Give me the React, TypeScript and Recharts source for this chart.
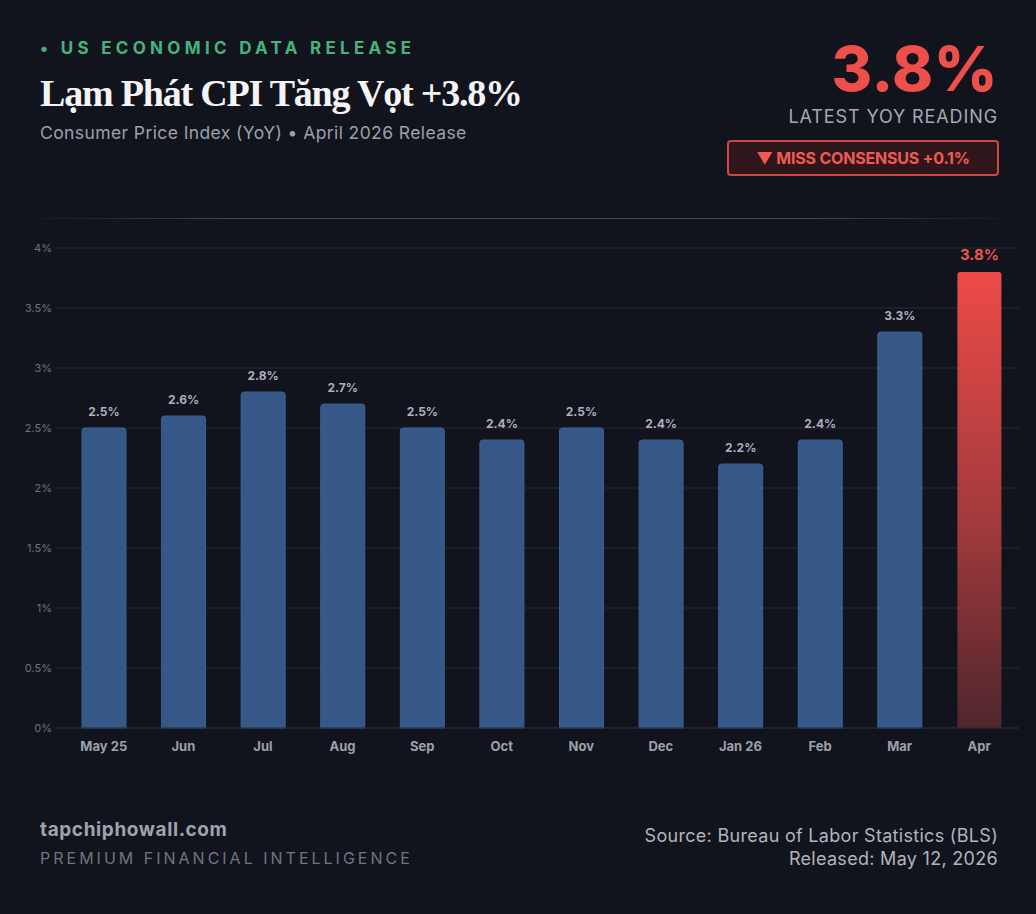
import { BarChart, Bar, XAxis, YAxis, CartesianGrid, Cell, LabelList } from 'recharts';

const months = ['May 25', 'Jun', 'Jul', 'Aug', 'Sep', 'Oct', 'Nov', 'Dec', 'Jan 26', 'Feb', 'Mar', 'Apr'];
const cpiYoY = [2.5, 2.6, 2.8, 2.7, 2.5, 2.4, 2.5, 2.4, 2.2, 2.4, 3.3, 3.8];
const yTicks = [0, 0.5, 1, 1.5, 2, 2.5, 3, 3.5, 4];

const chartData = months.map((m, i) => ({ month: m, value: cpiYoY[i] }));
const lastIndex = chartData.length - 1;

const sans = 'Inter, "Noto Sans", sans-serif';

function BarValueLabel(props: any) {
  const { x, y, width, value, index } = props;
  const isLatest = index === lastIndex;
  return (
    <text
      x={x + width / 2}
      y={y - 12}
      textAnchor="middle"
      fontFamily={sans}
      fontWeight={700}
      fontSize={isLatest ? 15 : 12}
      fill={isLatest ? '#ef534e' : '#aab1bd'}
    >
      {`${value}%`}
    </text>
  );
}

export default function App() {
  return (
    <div
      style={{
        position: 'relative',
        width: 1036,
        height: 914,
        background: '#11141c',
        fontFamily: sans,
        overflow: 'hidden',
      }}
    >
      <style>{`body{margin:0}`}</style>

      {/* header, left */}
      <div style={{ position: 'absolute', left: 40, top: 38, fontSize: 17, fontWeight: 700, letterSpacing: 4.3, color: '#43b47f' }}>
        • US ECONOMIC DATA RELEASE
      </div>
      <div
        style={{
          position: 'absolute',
          left: 40,
          top: 71,
          fontFamily: '"Liberation Serif", "DejaVu Serif", serif',
          fontSize: 38,
          fontWeight: 700,
          color: '#f4f4f6',
          letterSpacing: -1.2,
          whiteSpace: 'nowrap',
        }}
      >
        Lạm Phát CPI Tăng Vọt +3.8%
      </div>
      <div style={{ position: 'absolute', left: 40, top: 122, fontSize: 17.5, letterSpacing: 0.4, color: '#9ba1ab' }}>
        Consumer Price Index (YoY) • April 2026 Release
      </div>

      {/* header, right */}
      <div style={{ position: 'absolute', right: 38, top: 33, fontSize: 62, fontWeight: 800, color: '#ef4f4b', lineHeight: '72px', letterSpacing: 0.5 }}>
        3.8%
      </div>
      <div style={{ position: 'absolute', right: 38, top: 106, fontSize: 18, color: '#a3a9b3', letterSpacing: 0.9 }}>
        LATEST YOY READING
      </div>
      <div
        style={{
          position: 'absolute',
          left: 727,
          top: 140,
          width: 268,
          height: 32,
          border: '2px solid #cf4642',
          borderRadius: 4,
          background: '#2e161a',
          color: '#f05a52',
          fontSize: 16,
          fontWeight: 700,
          display: 'flex',
          alignItems: 'center',
          justifyContent: 'center',
          letterSpacing: -0.2,
        }}
      >
        ▼ MISS CONSENSUS +0.1%
      </div>

      {/* separator */}
      <div
        style={{
          position: 'absolute',
          left: 40,
          top: 218,
          width: 960,
          height: 1,
          background: 'linear-gradient(90deg, rgba(70,76,90,0.1), rgba(70,76,90,0.9) 20%, rgba(70,76,90,0.9) 80%, rgba(70,76,90,0.1))',
        }}
      />

      {/* chart */}
      <div style={{ position: 'absolute', left: 0, top: 231 }}>
        <BarChart
          width={1036}
          height={530}
          data={chartData}
          margin={{ top: 17, right: 17, bottom: 3, left: 0 }}
          barSize={44}
        >
          <defs>
            <linearGradient id="latestGrad" x1="0" y1="0" x2="0" y2="1">
              <stop offset="0%" stopColor="#ec4b48" />
              <stop offset="55%" stopColor="#a23a3c" />
              <stop offset="100%" stopColor="#4f262d" />
            </linearGradient>
          </defs>
          <CartesianGrid vertical={false} stroke="#262b36" />
          <XAxis
            dataKey="month"
            height={30}
            padding={{ left: 8, right: 0 }}
            tickLine={false}
            axisLine={{ stroke: '#232833' }}
            tickSize={0}
            tickMargin={14}
            interval={0}
            tick={{ fill: '#9aa1ac', fontSize: 13, fontWeight: 700, fontFamily: sans }}
          />
          <YAxis
            width={56}
            domain={[0, 4]}
            ticks={yTicks}
            tickFormatter={(v: number) => `${v}%`}
            tickLine={false}
            axisLine={false}
            tickSize={0}
            tickMargin={4}
            tick={{ fill: '#6b717c', fontSize: 11, fontFamily: sans }}
          />
          <Bar dataKey="value" radius={[3, 3, 0, 0]} isAnimationActive={false}>
            {chartData.map((d, i) => (
              <Cell
                key={d.month}
                fill={i === lastIndex ? 'url(#latestGrad)' : '#355888'}
                stroke={i === lastIndex ? 'none' : '#3b6194'}
                strokeWidth={1}
              />
            ))}
            <LabelList dataKey="value" content={BarValueLabel} />
          </Bar>
        </BarChart>
      </div>

      {/* footer */}
      <div style={{ position: 'absolute', left: 40, top: 818, fontSize: 19, fontWeight: 700, letterSpacing: 0.6, color: '#9ea4ae' }}>
        tapchiphowall.com
      </div>
      <div style={{ position: 'absolute', left: 40, top: 848, fontSize: 16, color: '#6e7480', letterSpacing: 3.0 }}>
        PREMIUM FINANCIAL INTELLIGENCE
      </div>
      <div style={{ position: 'absolute', right: 38, top: 824, fontSize: 18, color: '#b0b5be', textAlign: 'right', lineHeight: '23px', letterSpacing: 0.3 }}>
        <div>Source: Bureau of Labor Statistics (BLS)</div>
        <div>Released: May 12, 2026</div>
      </div>
    </div>
  );
}
